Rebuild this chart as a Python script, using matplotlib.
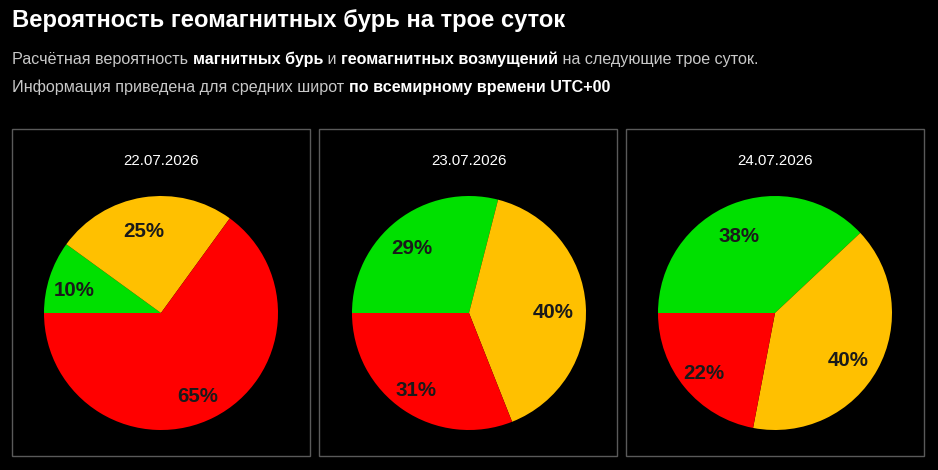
import matplotlib
matplotlib.use("Agg")
import matplotlib.pyplot as plt
from matplotlib.patches import Rectangle
from matplotlib.transforms import offset_copy

# ---- data ----
dates = ["22.07.2026", "23.07.2026", "24.07.2026"]
categories = ["Спокойно", "Возмущения", "Буря"]
green_vals = [10, 29, 38]
yellow_vals = [25, 40, 40]
red_vals = [65, 31, 22]
slice_colors = ["#00e000", "#ffc000", "#ff0000"]

title = "Вероятность геомагнитных бурь на трое суток"
line1 = [("Расчётная вероятность ", False), ("магнитных бурь", True), (" и ", False),
         ("геомагнитных возмущений", True), (" на следующие трое суток.", False)]
line2 = [("Информация приведена для средних широт ", False),
         ("по всемирному времени UTC+00", True)]

W, H = 938, 470
plt.rcParams['font.family'] = ['Liberation Sans', 'DejaVu Sans']
fig = plt.figure(figsize=(W / 100, H / 100), dpi=100, facecolor="black")
renderer = fig.canvas.get_renderer()

def px(x, y):
    return x / W, 1 - y / H

fig.text(*px(12, 26.7), title, color="white", fontsize=17.1, fontweight="bold",
         va="baseline", ha="left")

def draw_line(segments, x0, ybase, size=11.6):
    x = x0
    for txt, bold in segments:
        t = fig.text(*px(x, ybase), txt, fontsize=size,
                     fontweight="bold" if bold else "normal",
                     color="white" if bold else "#c8c8c8",
                     va="baseline", ha="left")
        bb = t.get_window_extent(renderer=renderer)
        x += bb.width

draw_line(line1, 12, 64)
draw_line(line2, 12, 92)

# panels
panel_x = [12, 319, 626]
panel_w = 298
panel_top, panel_bot = 129, 456
centers = [161, 469, 775]
cy = 313
R = 117

for i in range(3):
    x0 = panel_x[i]
    fig.patches.append(Rectangle((x0 / W, 1 - panel_bot / H), panel_w / W,
                                 (panel_bot - panel_top) / H,
                                 transform=fig.transFigure, fill=False,
                                 edgecolor="#5a5a5a", linewidth=1.0))
    fig.text(*px(centers[i], 161), dates[i], color="white", fontsize=10.8,
             ha="center", va="center")
    ax = fig.add_axes([(centers[i] - R) / W, 1 - (cy + R) / H, 2 * R / W, 2 * R / H])
    vals = [green_vals[i], yellow_vals[i], red_vals[i]]
    wedges, texts, autotexts = ax.pie(
        vals, colors=slice_colors, startangle=180, counterclock=False,
        autopct=lambda p: f"{p:.0f}%", pctdistance=0.75,
        wedgeprops=dict(linewidth=0),
        textprops=dict(fontsize=14.8, fontweight="bold", color="#1a1a1a"))
    ax.set_xlim(-1, 1)
    ax.set_ylim(-1, 1)
    ax.set_facecolor("black")
    ax.axis("off")
    for at in autotexts:
        at.set_transform(offset_copy(ax.transData, fig=fig, x=-3.5, y=-5, units="dots"))

fig.savefig("out.png", dpi=100, facecolor="black")
